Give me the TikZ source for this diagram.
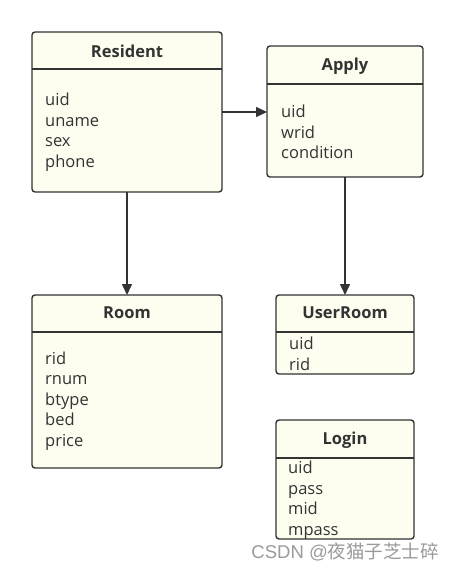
\documentclass[tikz,border=0pt]{standalone}
\usepackage{fontspec}
\setmainfont{Open Sans}
\newfontfamily\cjkfont{Noto Sans CJK SC}
\newfontfamily\wmlatin{Liberation Sans}
\usetikzlibrary{arrows.meta}
\definecolor{boxfill}{HTML}{FEFEF0}
\definecolor{boxline}{HTML}{333333}
\definecolor{wmark}{HTML}{9A9A9A}
\tikzset{
  entity/.style={draw=boxline, fill=boxfill, line width=1.4pt, rounded corners=3pt,
    anchor=north west, inner sep=0pt, outer sep=0pt},
  sepline/.style={draw=boxline, line width=1.2pt},
  title/.style={font=\fontsize{16.5}{19}\selectfont\bfseries, text=boxline, inner sep=0pt},
  fields/.style={font=\fontsize{16.5}{20.5}\selectfont, text=boxline, align=left, anchor=west, inner sep=0pt},
  conn/.style={draw=boxline, line width=1.5pt, -{Triangle[length=11pt,width=10pt]}},
}
\begin{document}
\begin{tikzpicture}[x=1pt,y=-1pt]
\useasboundingbox (0,0) rectangle (454,572);
% Resident
\node[entity, minimum width=190pt, minimum height=160pt] (res) at (32,32) {};
\draw[sepline] (32,69) -- (222,69);
\node[title] (resT) at (127,51) {Resident};
\node[fields] (resF) at (45,132) {uid\\uname\\sex\\phone};
% Apply
\node[entity, minimum width=156pt, minimum height=131pt] (app) at (267,46) {};
\draw[sepline] (267,84) -- (423,84);
\node[title] (appT) at (345,66) {Apply};
\node[fields] (appF) at (281,132) {uid\\wrid\\condition};
% Room
\node[entity, minimum width=190pt, minimum height=173pt] (room) at (32,295) {};
\draw[sepline] (32,332) -- (222,332);
\node[title] (roomT) at (127,313) {Room};
\node[fields] (roomF) at (45,401) {rid\\rnum\\btype\\bed\\price};
% UserRoom
\node[entity, minimum width=138pt, minimum height=79pt] (ur) at (276,295) {};
\draw[sepline] (276,332) -- (414,332);
\node[title] (urT) at (345,313) {UserRoom};
\node[fields] (urF) at (289,354) {uid\\rid};
% Login
\node[entity, minimum width=138pt, minimum height=119pt] (login) at (276,420) {};
\draw[sepline] (276,458) -- (414,458);
\node[title] (loginT) at (345,440) {Login};
\node[fields] (loginF) at (288,500) {uid\\pass\\mid\\mpass};
% connectors
\draw[conn] (res.east |- 0,112) -- (app.west |- 0,112);
\draw[conn] (res.south) -- (room.north);
\draw[conn] (app.south) -- (ur.north);
% watermark
\node[font=\fontsize{18.5}{20}\selectfont, text=wmark, anchor=east, inner sep=0pt] (wm) at (439,552) {{\wmlatin CSDN @}{\cjkfont 夜猫子芝士碎}};
\end{tikzpicture}
\end{document}
